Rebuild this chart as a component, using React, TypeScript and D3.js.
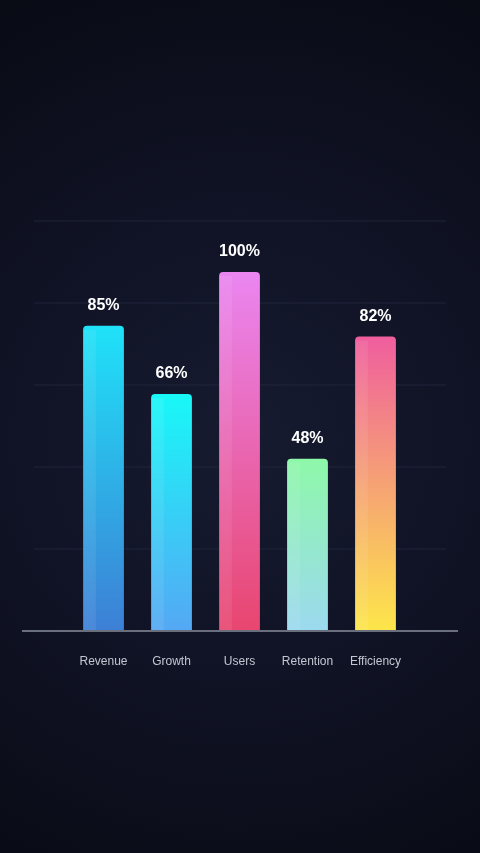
import React from "react";
import * as d3 from "d3";

const categories = ["Revenue", "Growth", "Users", "Retention", "Efficiency"];
const values = [85, 66, 100, 48, 82];
const topColors = ["#1fe2f8", "#18f8f8", "#ea86f1", "#8ef8a9", "#ef5e9e"];
const bottomColors = ["#3d7fd5", "#55a8f4", "#e8466f", "#9cd9ef", "#fde64a"];
const gridCount = 5;

const W = 480;
const H = 853;

export default function App() {
  const baseY = 631;
  const x = d3
    .scaleBand<string>()
    .domain(categories)
    .range([69.5, 409.5])
    .paddingInner(0.4)
    .paddingOuter(0.2);
  const y = d3.scaleLinear().domain([0, 114.2]).range([baseY, 221]);
  const gridVals = d3.range(1, gridCount + 1).map((i) => (114.2 * i) / gridCount);
  const bw = x.bandwidth();
  const r = 4;

  const barPath = (x0: number, y0: number, w: number, h: number) => {
    const p = d3.path();
    p.moveTo(x0, y0 + h);
    p.lineTo(x0, y0 + r);
    p.quadraticCurveTo(x0, y0, x0 + r, y0);
    p.lineTo(x0 + w - r, y0);
    p.quadraticCurveTo(x0 + w, y0, x0 + w, y0 + r);
    p.lineTo(x0 + w, y0 + h);
    p.closePath();
    return p.toString();
  };

  return (
    <div style={{ position: "fixed", left: 0, top: 0, width: W, height: H }}>
      <svg width={W} height={H} style={{ display: "block" }}>
        <defs>
          <radialGradient id="bg" gradientUnits="userSpaceOnUse" cx={240} cy={440} r={520}>
            <stop offset="0%" stopColor="#171b30" />
            <stop offset="45%" stopColor="#101325" />
            <stop offset="100%" stopColor="#080a13" />
          </radialGradient>
          {categories.map((c, i) => (
            <linearGradient key={c} id={`g${i}`} x1="0" y1="0" x2="0" y2="1">
              <stop offset="0%" stopColor={topColors[i]} />
              <stop offset="100%" stopColor={bottomColors[i]} />
            </linearGradient>
          ))}
        </defs>
        <rect x={0} y={0} width={W} height={H} fill="url(#bg)" />
        {gridVals.map((v, i) => (
          <line
            key={i}
            x1={34}
            x2={446}
            y1={y(v)}
            y2={y(v)}
            stroke="#262c45"
            strokeOpacity={0.7}
            strokeWidth={1}
          />
        ))}
        {categories.map((c, i) => {
          const x0 = x(c)!;
          const y0 = y(values[i]);
          const h = baseY - y0;
          return (
            <g key={c}>
              <path d={barPath(x0, y0, bw, h)} fill={`url(#g${i})`} />
              <rect
                x={x0 + 0.5}
                y={y0 + r}
                width={bw * 0.3}
                height={h - r}
                fill="#ffffff"
                fillOpacity={0.08}
              />
              <text
                x={x0 + bw / 2}
                y={y0 - 16}
                textAnchor="middle"
                fill="#ffffff"
                fontFamily="'Liberation Sans', Arial, sans-serif"
                fontWeight={700}
                fontSize={16}
              >
                {values[i]}%
              </text>
              <text
                x={x0 + bw / 2}
                y={665}
                textAnchor="middle"
                fill="#c3c7d1"
                fontFamily="'Liberation Sans', Arial, sans-serif"
                fontSize={12}
              >
                {c}
              </text>
            </g>
          );
        })}
        <line x1={22} x2={458} y1={baseY} y2={baseY} stroke="#6a6f7e" strokeWidth={2} />
      </svg>
    </div>
  );
}
